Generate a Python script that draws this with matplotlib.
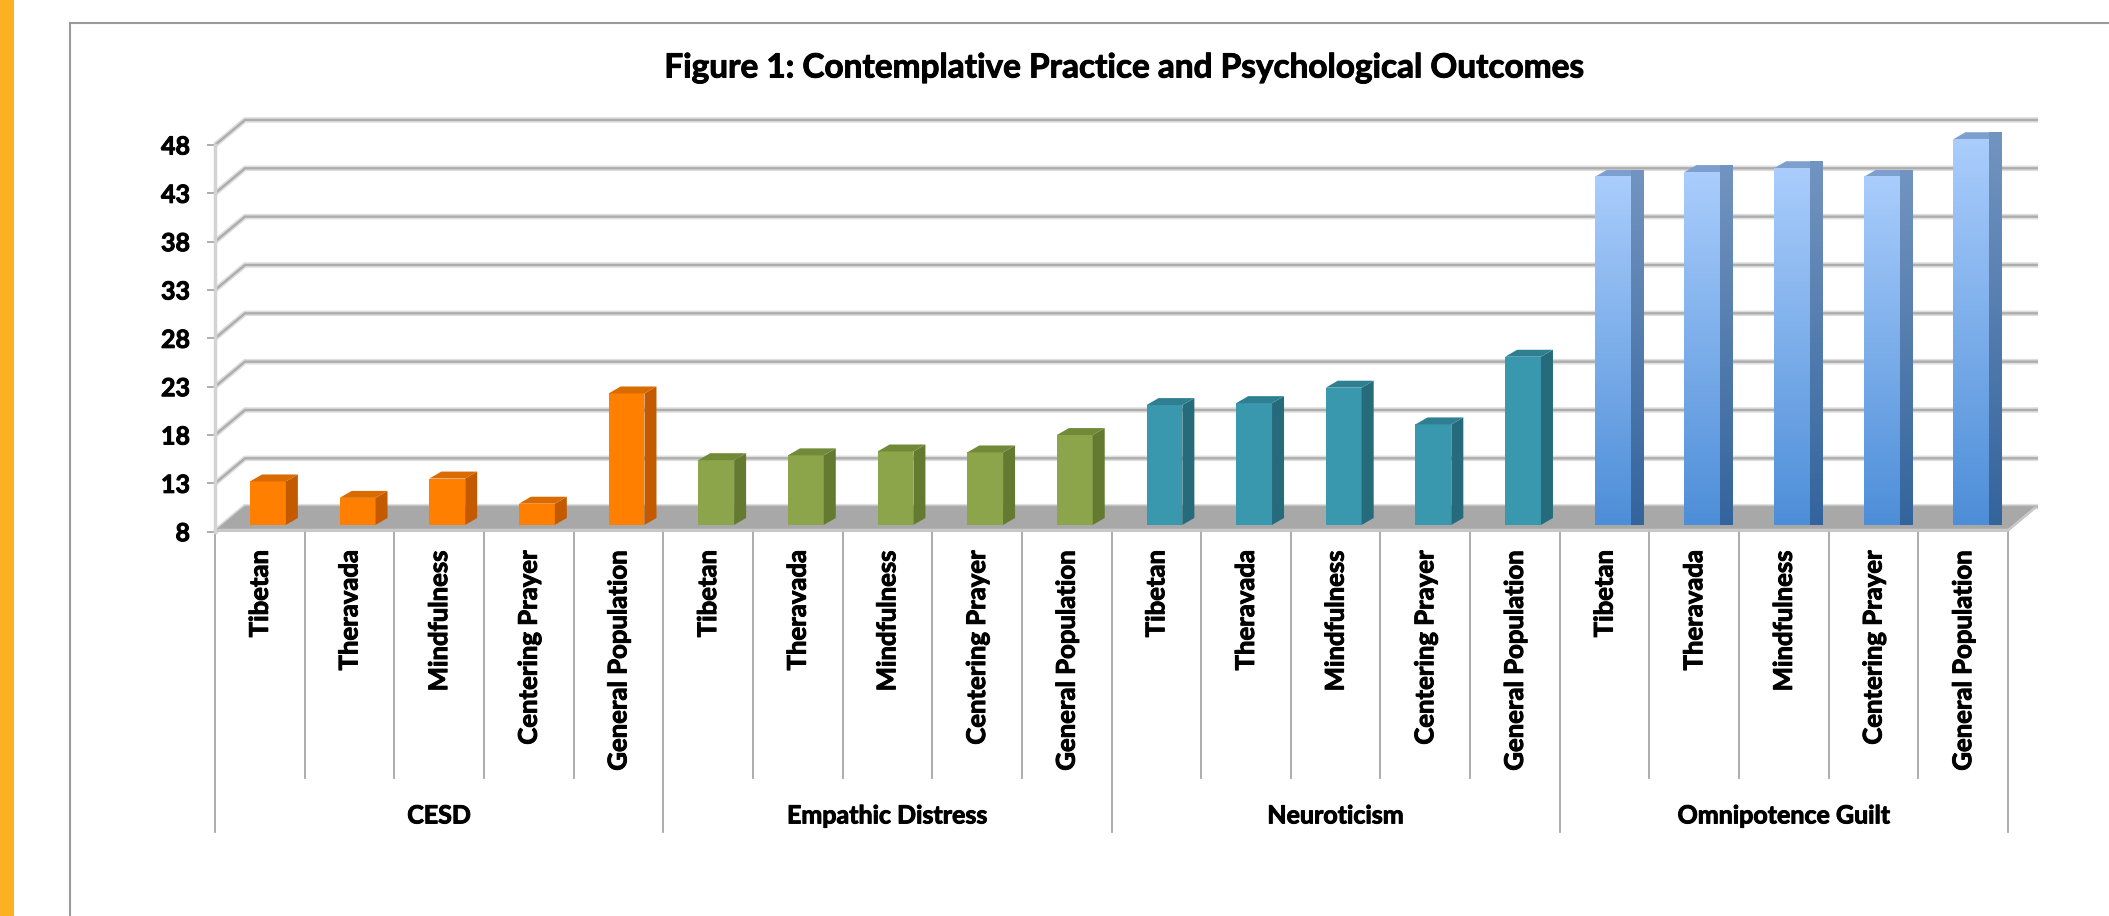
import matplotlib
matplotlib.use("Agg")
import matplotlib.pyplot as plt
import matplotlib.patheffects as pe
import numpy as np
from matplotlib.patches import Polygon, Rectangle

plt.rcParams['font.family'] = ['Lato', 'DejaVu Sans']

# data
groups = ["CESD", "Empathic Distress", "Neuroticism", "Omnipotence Guilt"]
practices = ["Tibetan", "Theravada", "Mindfulness", "Centering Prayer", "General Population"]
cesd = [12.5, 10.8, 12.8, 10.2, 21.6]
empathic = [14.7, 15.2, 15.6, 15.5, 17.3]
neuro = [20.4, 20.6, 22.2, 18.4, 25.4]
omni = [44.0, 44.5, 44.9, 44.0, 47.9]
yticks = [8, 13, 18, 23, 28, 33, 38, 43, 48]

front_c = ['#FF7F00', '#8CA54B', '#3A98AE', '#6FA6E6']
side_c = ['#C45A00', '#647A30', '#266B7C', '#4A74A6']
top_c = ['#D96B00', '#718A38', '#2E7F92', '#7C9FCF']

thick = [pe.withStroke(linewidth=0.7, foreground='black')]

W, H = 2109, 916
fig = plt.figure(figsize=(W / 100, H / 100), dpi=100)
fig.patch.set_facecolor('white')

# left orange strip and the chart frame
fig.add_artist(Rectangle((0, 0), 14 / W, 1, transform=fig.transFigure,
                         color='#FDB022', lw=0))
fig.add_artist(Rectangle((70 / W, -0.5), 2, 0.5 + (H - 23) / H,
                         transform=fig.transFigure, fill=False,
                         ec='#9A9A9A', lw=1.5))

ax = fig.add_axes([215 / W, (H - 531.7) / H, (2008 - 215) / W, (531.7 - 145) / H])
n = len(groups) * len(practices)
ax.set_xlim(0, n)
ax.set_ylim(8, 48)

# pseudo 3d depth in data units
wall_dx, wall_dy = 0.335, 2.59
f = 0.27
bdx, bdy = 0.134, 0.72

# back wall gridlines
for v in yticks:
    ax.plot([0, wall_dx, n + wall_dx], [v, v + wall_dy, v + wall_dy],
            color='#DEDEDE', lw=4, clip_on=False, zorder=1, solid_capstyle='butt')
    ax.plot([0, wall_dx, n + wall_dx], [v, v + wall_dy, v + wall_dy],
            color='#ADADAD', lw=1.7, clip_on=False, zorder=1.1, solid_capstyle='butt')

# floor
ax.add_patch(Polygon([(0, 8), (n, 8), (n + wall_dx, 8 + wall_dy), (wall_dx, 8 + wall_dy)],
                     closed=True, fc='#A8A8A8', ec='none', clip_on=False, zorder=2))
ax.add_patch(Polygon([(0, 8), (n, 8), (n + 0.12 * wall_dx, 8 + 0.12 * wall_dy),
                      (0.12 * wall_dx, 8 + 0.12 * wall_dy)],
                     closed=True, fc='#C9C9C9', ec='none', clip_on=False, zorder=2.1))
ax.add_patch(Polygon([(n, 8), (n + wall_dx, 8 + wall_dy), (n + wall_dx - 0.04, 8 + wall_dy),
                      (n - 0.04, 8)],
                     closed=True, fc='#C9C9C9', ec='none', clip_on=False, zorder=2.1))

series = [cesd, empathic, neuro, omni]
grad = np.linspace(0, 1, 256).reshape(-1, 1)
cm_front = matplotlib.colors.LinearSegmentedColormap.from_list('b', ['#4D8ED8', '#AACDFC'])
cm_side = matplotlib.colors.LinearSegmentedColormap.from_list('s', ['#33649C', '#7394C0'])
for g, vals in enumerate(series):
    x = np.arange(len(vals)) + g * len(practices) + 0.5 + f * wall_dx
    base = 8 + f * wall_dy
    heights = np.array(vals) - 8
    bars = ax.bar(x, heights, width=0.4, bottom=base, color=front_c[g],
                  lw=0, zorder=4, clip_on=False)
    for b in bars:
        x0 = b.get_x()
        x1 = x0 + b.get_width()
        y0 = b.get_y()
        y1 = y0 + b.get_height()
        side = Polygon([(x1, y0), (x1 + bdx, y0 + bdy), (x1 + bdx, y1 + bdy), (x1, y1)],
                       closed=True, fc=side_c[g], ec='none', zorder=4, clip_on=False)
        top = Polygon([(x0, y1), (x1, y1), (x1 + bdx, y1 + bdy), (x0 + bdx, y1 + bdy)],
                      closed=True, fc=top_c[g], ec='none', zorder=4, clip_on=False)
        ax.add_patch(side)
        ax.add_patch(top)
        if g == 3:
            im = ax.imshow(grad, cmap=cm_front, origin='lower', aspect='auto',
                           extent=(x0, x1, y0, y1), zorder=4.5, clip_on=False)
            im.set_clip_path(b)
            im2 = ax.imshow(grad, cmap=cm_side, origin='lower', aspect='auto',
                            extent=(x1, x1 + bdx, y0, y1 + bdy), zorder=4.5, clip_on=False)
            im2.set_clip_path(side)

ax.set_xlim(0, n)
ax.set_ylim(8, 48)

# axes styling
for s in ['top', 'right', 'bottom']:
    ax.spines[s].set_visible(False)
ax.spines['left'].set_color('#D3D3D3')
ax.spines['left'].set_linewidth(2.5)
ax.patch.set_alpha(0)
ax.set_xticks([])
ax.set_yticks(yticks)
ax.set_yticklabels([str(t) for t in yticks], fontweight='bold')
ax.tick_params(axis='y', length=6, width=1.2, color='#A0A0A0', pad=12, labelsize=18)
for lab in ax.get_yticklabels():
    lab.set_path_effects(thick)

# category labels and dividers
trans = ax.get_xaxis_transform()
for i in range(n + 1):
    low = -0.777 if i % len(practices) == 0 else -0.636
    ax.plot([i, i], [0, low], transform=trans, clip_on=False, color='#A6A6A6', lw=1.3)
for i in range(n):
    ax.annotate(practices[i % len(practices)], xy=(i + 0.5, 0), xycoords=trans,
                xytext=(0, -18), textcoords='offset pixels', rotation=90,
                ha='center', va='top', fontsize=18.5, fontweight='bold',
                path_effects=thick)
for g, name in enumerate(groups):
    ax.text((g + 0.5) * len(practices), -0.735, name, transform=trans,
            ha='center', va='center', fontsize=18, fontweight='bold',
            path_effects=thick)

fig.text(1125 / W, 1 - 68 / H, "Figure 1: Contemplative Practice and Psychological Outcomes",
         ha='center', va='center', fontsize=24, fontweight='bold', path_effects=thick)

fig.savefig('out.png', dpi=100)
